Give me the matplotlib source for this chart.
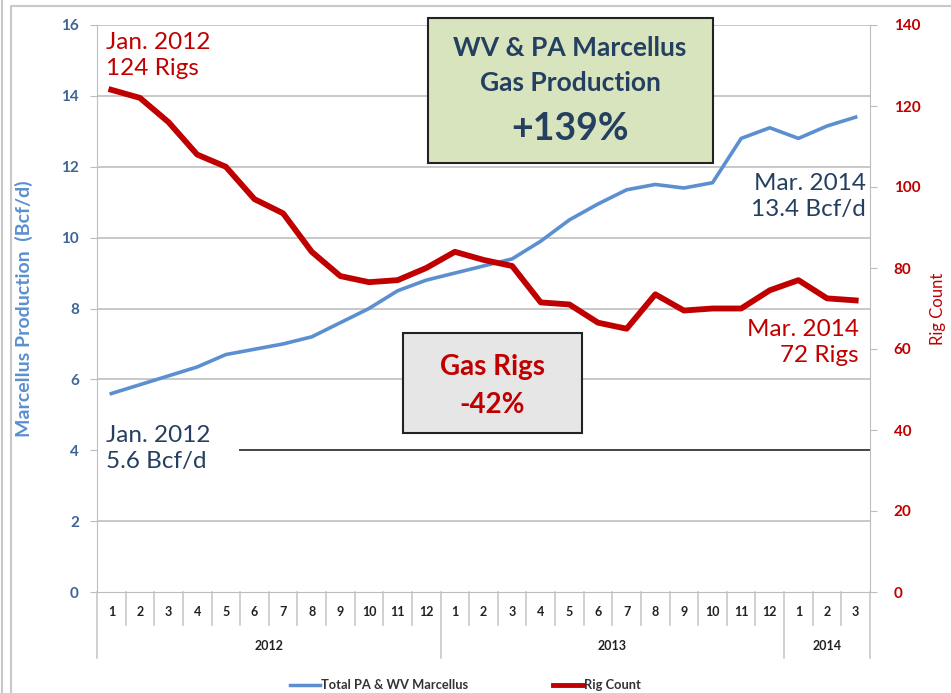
import matplotlib
matplotlib.use('Agg')
import matplotlib.pyplot as plt
from matplotlib.patches import Rectangle
from matplotlib.lines import Line2D

plt.rcParams['font.family'] = ['Lato', 'DejaVu Sans']

months = ['1', '2', '3', '4', '5', '6', '7', '8', '9', '10', '11', '12',
          '1', '2', '3', '4', '5', '6', '7', '8', '9', '10', '11', '12',
          '1', '2', '3']
years = ['2012', '2013', '2014']
year_lengths = [12, 12, 3]

production = [5.6, 5.85, 6.1, 6.35, 6.7, 6.85, 7.0, 7.2, 7.6, 8.0, 8.5, 8.8,
              9.0, 9.2, 9.4, 9.9, 10.5, 10.95, 11.35, 11.5, 11.4, 11.55, 12.8, 13.1,
              12.8, 13.15, 13.4]
rigs = [124, 122, 116, 108, 105, 97, 93.5, 84, 78, 76.5, 77, 80,
        84, 82, 80.5, 71.5, 71, 66.5, 65, 73.5, 69.5, 70, 70, 74.5,
        77, 72.5, 72]

BLUE = '#5b8fd0'
RED = '#c00000'
DARK = '#243f60'
TICKBLUE = '#3f6494'

fig = plt.figure(figsize=(9.51, 6.93), dpi=100)
ax = fig.add_axes([97 / 951, 1 - 592 / 693, (870 - 97) / 951, (592 - 25) / 693])
ax2 = ax.twinx()

x = list(range(len(months)))
ax.plot(x, production, color=BLUE, lw=2.6, zorder=3)
ax2.plot(x, rigs, color=RED, lw=4.2, zorder=3)

ax.set_xlim(-0.5, len(months) - 0.5)
ax.set_ylim(0, 16)
ax2.set_ylim(0, 140)
ax.set_yticks(range(0, 17, 2))
ax2.set_yticks(range(0, 141, 20))
ax.set_xticks([])

for y in range(2, 17, 2):
    if y == 4:
        # the 4 line is hidden behind the Jan. 2012 label on the left
        ax.axhline(y, xmin=0.185, color='#444444', lw=1.4, zorder=0)
    else:
        ax.axhline(y, color='#c8c8c8', lw=1.4, zorder=0)

for a in (ax, ax2):
    for s in a.spines.values():
        s.set_visible(False)
ax.spines['left'].set_visible(True)
ax.spines['left'].set_color('#bdbdbd')
ax.spines['bottom'].set_visible(True)
ax.spines['bottom'].set_color('#bdbdbd')
ax2.spines['right'].set_visible(True)
ax2.spines['right'].set_color('#bdbdbd')

ax.tick_params(axis='y', colors='#bdbdbd', labelcolor=TICKBLUE, labelsize=11,
               length=5, pad=8)
for t in ax.get_yticklabels():
    t.set_fontweight('bold')
ax2.tick_params(axis='y', colors='#bdbdbd', labelcolor=RED, labelsize=11,
                length=5, pad=12)
for t in ax2.get_yticklabels():
    t.set_fontweight('bold')

ax.set_ylabel('Marcellus Production  (Bcf/d)', color=BLUE,
              fontdict={'size': 14, 'weight': 'bold'})
ax.yaxis.set_label_coords(-0.083, 0.5)
ax2.set_ylabel('Rig Count', color=RED, fontsize=12)
ax2.yaxis.set_label_coords(1.078, 0.5)

# two-level category axis
trans = ax.get_xaxis_transform()
for i, m in enumerate(months):
    ax.text(i, -0.036, m, transform=trans, ha='center', va='center',
            fontsize=9, fontweight='bold', color='#222222')
bounds = [0]
for n in year_lengths:
    bounds.append(bounds[-1] + n)
for i in range(len(months) + 1):
    long_line = i in bounds
    ax.add_line(Line2D([i - 0.5, i - 0.5], [0, -0.116 if long_line else -0.058],
                       transform=trans, color='#c8c8c8', lw=1.2, clip_on=False))
for yr, a, b in zip(years, bounds[:-1], bounds[1:]):
    ax.text((a + b - 1) / 2, -0.095, yr, transform=trans, ha='center',
            va='center', fontsize=9, fontweight='bold', color='#222222')

# annotations
ax.text(-0.2, 15.15, 'Jan. 2012\n124 Rigs', color=RED, fontsize=17.5,
        va='center', linespacing=1.3, zorder=4)
ax.text(-0.2, 4.05, 'Jan. 2012\n5.6 Bcf/d', color=DARK, fontsize=17.5,
        va='center', linespacing=1.3, zorder=4)
ax.text(26.35, 11.15, 'Mar. 2014\n13.4 Bcf/d', color=DARK, fontsize=17.5,
        ha='right', va='center', linespacing=1.3, zorder=4,
        bbox=dict(facecolor='white', edgecolor='none', pad=2))
ax.text(26.1, 7.05, 'Mar. 2014\n72 Rigs', color=RED, fontsize=17.5,
        ha='right', va='center', linespacing=1.3, zorder=4)

# boxes
px = fig.transFigure
def fig_box(x0, y0, x1, y1, fc):
    fig.patches.append(Rectangle((x0 / 951, 1 - y1 / 693), (x1 - x0) / 951,
                                 (y1 - y0) / 693, transform=px, facecolor=fc,
                                 edgecolor='#222222', lw=1.5, zorder=5))

fig_box(428, 18, 713, 163, '#d7e4bd')
fig.text(570 / 951, 1 - 48 / 693, 'WV & PA Marcellus', ha='center', va='center',
         fontsize=19, fontweight='bold', color=DARK, zorder=6)
fig.text(570 / 951, 1 - 83 / 693, 'Gas Production', ha='center', va='center',
         fontsize=19, fontweight='bold', color=DARK, zorder=6)
fig.text(570 / 951, 1 - 129 / 693, '+139%', ha='center', va='center',
         fontsize=27, fontweight='bold', color=DARK, zorder=6)

fig_box(403, 333, 582, 433, '#e6e6e6')
fig.text(492 / 951, 1 - 367 / 693, 'Gas Rigs', ha='center', va='center',
         fontsize=20, fontweight='bold', color=RED, zorder=6)
fig.text(492 / 951, 1 - 405 / 693, '-42%', ha='center', va='center',
         fontsize=20, fontweight='bold', color=RED, zorder=6)

# legend
fig.add_artist(Line2D([290 / 951, 320 / 951], [1 - 685 / 693] * 2,
                      transform=px, color=BLUE, lw=2.5))
fig.text(321 / 951, 1 - 685 / 693, 'Total PA & WV Marcellus', fontsize=9.3,
         fontweight='bold', va='center', color='#333333')
fig.add_artist(Line2D([553 / 951, 583 / 951], [1 - 685 / 693] * 2,
                      transform=px, color=RED, lw=3.5))
fig.text(584 / 951, 1 - 685 / 693, 'Rig Count', fontsize=9.3,
         fontweight='bold', va='center', color='#333333')

# outer frame
fig.add_artist(Line2D([2 / 951, 2 / 951], [0, 1], transform=px,
                      color='#c8c8c8', lw=1.5))
fig.add_artist(Line2D([11 / 951, 11 / 951, 1], [0, 1 - 6 / 693, 1 - 6 / 693],
                      transform=px, color='#c8c8c8', lw=1.5))

fig.savefig('out.png', dpi=100)
